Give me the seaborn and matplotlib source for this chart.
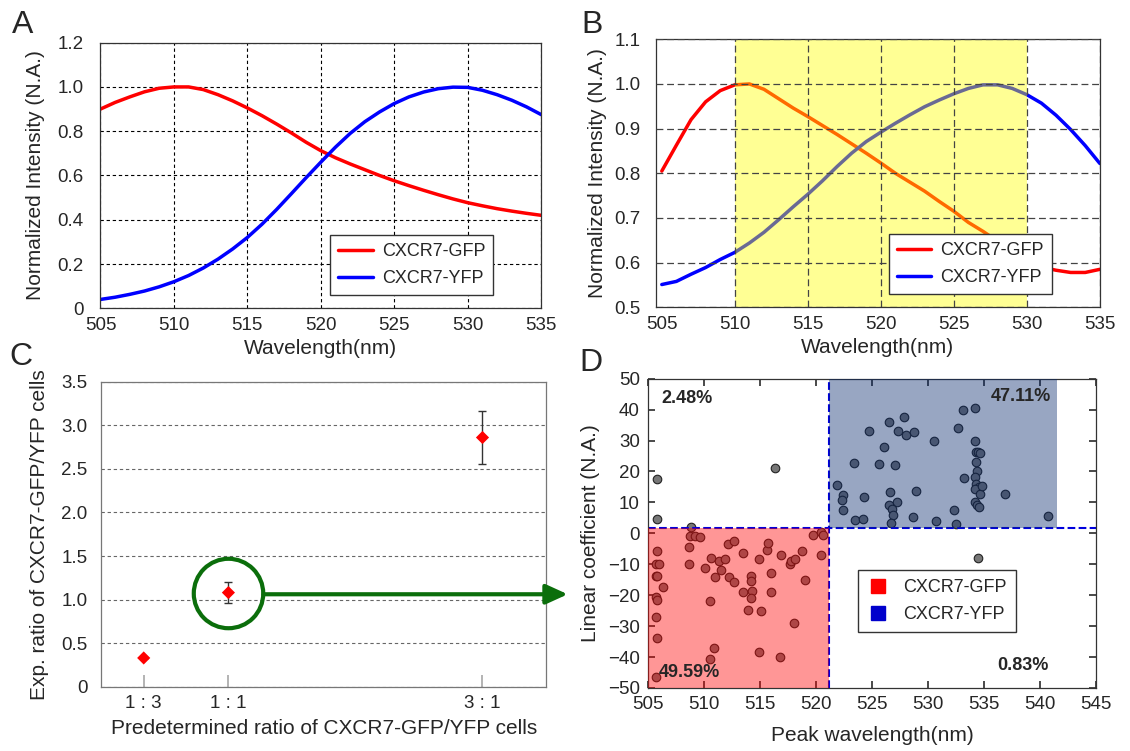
import numpy as np
import pandas as pd
import seaborn as sns
import matplotlib
matplotlib.use("Agg")
import matplotlib.pyplot as plt
from matplotlib.lines import Line2D
from matplotlib.patches import Rectangle

# ---------------- data ----------------
wavelength = list(range(505, 536))
gfp_a = [0.90, 0.93, 0.955, 0.978, 0.994, 1.0, 1.0, 0.988, 0.965, 0.937, 0.905, 0.87, 0.832,
         0.792, 0.75, 0.712, 0.68, 0.652, 0.626, 0.60, 0.576, 0.554, 0.533, 0.513, 0.494, 0.477,
         0.463, 0.45, 0.439, 0.429, 0.42]
yfp_a = [0.04, 0.05, 0.063, 0.078, 0.097, 0.12, 0.148, 0.182, 0.222, 0.268, 0.32, 0.38, 0.447,
         0.518, 0.59, 0.66, 0.728, 0.79, 0.843, 0.887, 0.925, 0.955, 0.977, 0.992, 0.999, 0.998,
         0.985, 0.965, 0.94, 0.91, 0.875]
gfp_b = [0.805, 0.863, 0.92, 0.96, 0.985, 0.998, 1.0, 0.988, 0.967, 0.946, 0.927, 0.907, 0.887,
         0.866, 0.845, 0.823, 0.80, 0.78, 0.76, 0.737, 0.715, 0.69, 0.67, 0.648, 0.625, 0.605,
         0.59, 0.583, 0.578, 0.578, 0.585]
yfp_b = [0.551, 0.558, 0.574, 0.589, 0.607, 0.623, 0.644, 0.668, 0.696, 0.725, 0.753, 0.783,
         0.815, 0.845, 0.871, 0.892, 0.912, 0.931, 0.949, 0.964, 0.978, 0.99, 0.998, 0.998, 0.99,
         0.976, 0.957, 0.93, 0.898, 0.862, 0.822]
band_lo, band_hi = 510, 530

ratio_pos = [1 / 3, 1, 3]
ratio_labels = ["1 : 3", "1 : 1", "3 : 1"]
exp_ratio = [0.33, 1.08, 2.86]
exp_err = [0.0, 0.117, 0.30]

gfp_pts_x = [505.75, 505.7, 506.0, 505.7, 505.8, 506.3, 505.7, 505.75, 505.65, 505.75, 505.7,
             508.6, 508.6, 508.7, 509.15, 509.6, 510.1, 510.6, 510.5, 511.0, 510.9, 510.5, 511.35,
             511.5, 511.9, 512.1, 512.2, 512.7, 512.7, 513.5, 513.5, 513.9, 514.2, 514.2, 514.3,
             514.2, 514.9, 515.1, 514.9, 515.6, 515.7, 516.0, 516.0, 516.8, 516.9, 517.7, 517.8,
             518.1, 518.0, 518.7, 519.0, 519.7, 520.4, 520.6, 520.45]
gfp_pts_y = [-5.7, -10.0, -10.0, -13.7, -13.7, -17.2, -20.5, -21.5, -27.1, -33.9, -46.5,
             -4.5, -10.0, -0.9, -0.9, -1.1, -11.1, -8.1, -21.9, -14.2, -37.2, -40.5, -8.9,
             -11.7, -8.4, -3.4, -14.2, -2.5, -15.8, -6.5, -18.9, -24.9, -13.8, -15.4, -18.5,
             -21.0, -8.2, -25.1, -38.3, -5.4, -3.2, -12.8, -18.9, -40.0, -7.1, -10.0, -9.0,
             -8.4, -29.0, -5.7, -15.0, -0.5, 0.5, -0.5, -7.0]
yfp_pts_x = [534.2, 533.1, 527.9, 526.5, 524.7, 527.3, 528.05, 528.8, 532.7, 530.55, 534.2,
             526.1, 534.3, 534.5, 534.7, 523.4, 525.6, 527.1, 534.3, 534.35, 533.2, 534.2, 534.3,
             534.6, 534.2, 534.7, 534.8, 521.9, 522.4, 522.3, 522.4, 524.3, 526.6, 528.9, 527.2,
             526.5, 526.8, 526.9, 526.7, 523.5, 524.2, 528.65, 530.7, 532.3, 532.5, 534.2, 534.4,
             534.6, 536.9, 540.75]
yfp_pts_y = [40.5, 40.0, 37.7, 36.1, 33.2, 33.1, 31.7, 32.9, 34.2, 29.8, 29.9,
             27.8, 26.4, 26.3, 26.0, 22.6, 22.3, 22.1, 22.9, 20.1, 18.0, 18.3, 16.1,
             15.0, 14.4, 12.7, 15.3, 15.7, 12.3, 10.7, 7.5, 11.7, 13.3, 13.8, 10.0,
             9.3, 7.8, 6.0, 3.4, 4.4, 4.7, 5.4, 4.0, 7.55, 3.0, 10.2, 9.2,
             8.6, 12.8, 5.6]
other_pts_x = [505.75, 505.8, 516.3, 508.8, 534.45]
other_pts_y = [17.7, 4.5, 21.2, 2.05, -8.1]
wl_cut, coef_cut, gate_right = 521.2, 1.7, 541.5
quad_text = ["2.48%", "47.11%", "49.59%", "0.83%"]
quad_x = [508.5, 538.3, 508.66, 538.5]
quad_y = [43.5, 44.1, -45.0, -42.8]

# ---------------- style ----------------
sns.set_theme(style="white")
plt.rcParams["font.family"] = ["Liberation Sans", "DejaVu Sans"]
TICK = 13.5
LAB = 15
LEG = 13
SPINE = "#333333"

fig = plt.figure(figsize=(11.3, 7.51), dpi=100)
axA = fig.add_axes([0.0889, 0.5895, 0.390, 0.3537])
axB = fig.add_axes([0.5805, 0.5908, 0.3928, 0.3569])
axC = fig.add_axes([0.0897, 0.0856, 0.3935, 0.4061])
axD = fig.add_axes([0.5737, 0.0839, 0.3959, 0.4119])

for ax in (axA, axB, axC, axD):
    for s in ax.spines.values():
        s.set_color(SPINE)
        s.set_linewidth(0.9)

pal = {"CXCR7-GFP": "#ff0000", "CXCR7-YFP": "#0000ff"}
line_handles = [Line2D([], [], color=pal[k], lw=2.5) for k in pal]


def spectra(ax, gfp, yfp, xmin):
    df = pd.DataFrame({"wl": wavelength, "CXCR7-GFP": gfp, "CXCR7-YFP": yfp})
    df = df.melt("wl", var_name="probe", value_name="I")
    sns.lineplot(data=df, x="wl", y="I", hue="probe", palette=pal, lw=2.5, ax=ax,
                 legend=False, zorder=2)
    ax.set_xlim(xmin, wavelength[-1])
    ax.set_xticks(range(505, 536, 5))
    ax.set_xlabel("Wavelength(nm)", fontsize=LAB)
    ax.set_ylabel("Normalized Intensity (N.A.)", fontsize=LAB)
    ax.xaxis.set_label_coords(0.5, -0.115)
    ax.tick_params(axis="both", labelsize=TICK, length=0)
    ax.tick_params(axis="x", pad=6)
    leg = ax.legend(line_handles, list(pal), loc="lower right", bbox_to_anchor=(0.912, 0.015),
                    fontsize=LEG, frameon=True, fancybox=False, framealpha=1,
                    edgecolor=SPINE, handlelength=1.9, handletextpad=0.5, labelspacing=0.55,
                    borderpad=0.45)
    leg.get_frame().set_linewidth(1.0)
    leg.set_zorder(6)


# ---- A ----
spectra(axA, gfp_a, yfp_a, wavelength[0])
axA.set_ylim(0, 1.2)
axA.set_yticks(np.arange(0, 1.21, 0.2))
axA.set_yticklabels(["0"] + [f"{v:.1f}" for v in np.arange(0.2, 1.21, 0.2)])
axA.grid(True, color="black", ls=(0, (3, 2.5)), lw=0.8)
axA.tick_params(axis="y", pad=12)
axA.yaxis.set_label_coords(-0.125, 0.5)

# ---- B ----
spectra(axB, gfp_b, yfp_b, 504.6)
axB.set_ylim(0.5, 1.1)
axB.set_yticks(np.arange(0.5, 1.11, 0.1))
axB.set_yticklabels([f"{v:.1f}" for v in np.arange(0.5, 1.11, 0.1)])
axB.set_axisbelow(False)
axB.grid(True, color="#444444", ls=(0, (5.5, 3)), lw=0.9)
axB.get_xgridlines()[0].set_visible(False)
axB.axvspan(band_lo, band_hi, color="#ffff00", alpha=0.42, lw=0, zorder=2.2)
axB.tick_params(axis="y", pad=11)
axB.yaxis.set_label_coords(-0.11, 0.5)

# ---- C ----
sns.scatterplot(x=ratio_pos, y=exp_ratio, marker="D", color="#ff0000", s=45, edgecolor="none",
                ax=axC, zorder=4)
axC.errorbar(ratio_pos, exp_ratio, yerr=exp_err, fmt="none", ecolor="#333333", elinewidth=1,
             capsize=3, capthick=1, zorder=3)
axC.set_xlim(0, 3.5)
axC.set_ylim(0, 3.5)
axC.set_xticks(ratio_pos)
axC.set_xticklabels(ratio_labels)
axC.set_yticks(np.arange(0, 3.51, 0.5))
axC.set_yticklabels(["0"] + [f"{v:.1f}" for v in np.arange(0.5, 3.51, 0.5)])
axC.yaxis.grid(True, color="#666666", ls=(0, (3, 2.5)), lw=0.8)
axC.xaxis.grid(False)
axC.tick_params(axis="x", direction="in", length=9, color="#aaaaaa", labelsize=TICK, pad=6,
                bottom=True)
axC.tick_params(axis="y", length=0, labelsize=TICK, pad=10)
axC.set_xlabel("Predetermined ratio of CXCR7-GFP/YFP cells", fontsize=LAB)
axC.set_ylabel("Exp. ratio of CXCR7-GFP/YFP cells", fontsize=LAB)
axC.xaxis.set_label_coords(0.5, -0.105)
axC.yaxis.set_label_coords(-0.118, 0.5)
for s in axC.spines.values():
    s.set_color("#777777")
green = "#0b6e0b"
axC.plot(ratio_pos[1], exp_ratio[1], marker="o", ms=50, mfc="none", mec=green, mew=3,
         zorder=5, clip_on=False)
axC.annotate("", xy=(-0.18, 0.303), xycoords=axD.transAxes, xytext=(1.276, 1.061),
             textcoords="data",
             arrowprops=dict(arrowstyle="-|>,head_length=1.1,head_width=0.5", color=green,
                             lw=3, shrinkA=0, shrinkB=0), zorder=5)

# ---- D ----
pts = pd.DataFrame({"wl": gfp_pts_x + yfp_pts_x + other_pts_x,
                    "coef": gfp_pts_y + yfp_pts_y + other_pts_y})
sns.scatterplot(data=pts, x="wl", y="coef", color="#777777", edgecolor="#222222", linewidth=0.8,
                s=38, ax=axD, zorder=2)
axD.add_patch(Rectangle((505, -50), wl_cut - 505, coef_cut + 50, facecolor="#ff0000",
                        alpha=0.41, lw=0, zorder=3))
axD.add_patch(Rectangle((wl_cut, coef_cut), gate_right - wl_cut, 50 - coef_cut,
                        facecolor="#05276b", alpha=0.41, lw=0, zorder=3))
axD.axhline(coef_cut, color="#0000dd", ls=(0, (3.7, 1.6)), lw=1.5, zorder=2.5)
axD.axvline(wl_cut, color="#0000dd", ls=(0, (3.7, 1.6)), lw=1.5, zorder=2.5)
for t, x, y in zip(quad_text, quad_x, quad_y):
    axD.text(x, y, t, ha="center", va="center", fontsize=13, fontweight="bold", zorder=6)
axD.set_xlim(505, 545)
axD.set_ylim(-50, 50)
axD.set_xticks(range(505, 546, 5))
axD.set_yticks(range(-50, 51, 10))
axD.tick_params(axis="both", direction="in", length=5, color=SPINE, labelsize=TICK,
                top=True, right=True, bottom=True, left=True)
axD.tick_params(axis="x", pad=6)
axD.tick_params(axis="y", pad=6)
axD.set_xlabel("Peak wavelength(nm)", fontsize=LAB)
axD.set_ylabel("Linear coefficient (N.A.)", fontsize=LAB)
axD.xaxis.set_label_coords(0.5, -0.122)
axD.yaxis.set_label_coords(-0.108, 0.5)
sq = [Line2D([], [], marker="s", ls="none", color="#ff0000", ms=10),
      Line2D([], [], marker="s", ls="none", color="#0000cc", ms=10)]
legD = axD.legend(sq, list(pal), loc="lower right", bbox_to_anchor=(0.842, 0.152),
                  fontsize=LEG, frameon=True, fancybox=False, framealpha=1, edgecolor=SPINE,
                  handlelength=1.2, handletextpad=0.8, labelspacing=0.55, borderpad=0.5)
legD.get_frame().set_linewidth(1.0)
legD.set_zorder(6)

# panel letters
for lab, x, y in [("A", 12, 33), ("B", 581, 33), ("C", 9, 365), ("D", 579, 371)]:
    fig.text(x / 1130, 1 - y / 751, lab, fontsize=23, ha="left", va="baseline")

fig.savefig("out.png", dpi=100)
